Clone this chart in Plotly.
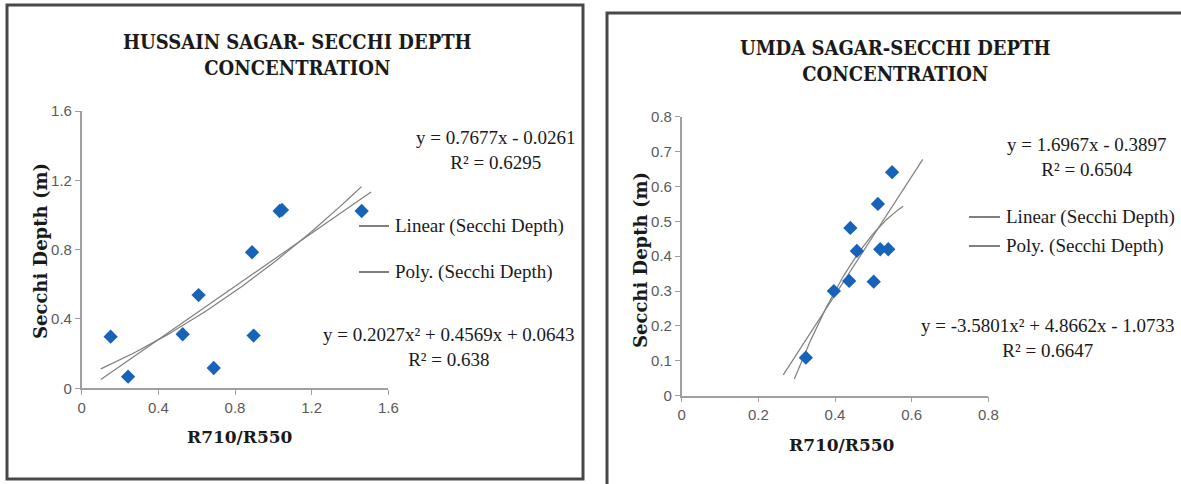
import numpy as np
import plotly.graph_objects as go

W, H = 1181, 484

# ---------------- data ----------------
hs_ratio = [0.151, 0.242, 0.527, 0.610, 0.689, 0.889, 0.897, 1.033, 1.045, 1.461]
hs_secchi = [0.298, 0.067, 0.312, 0.538, 0.117, 0.785, 0.304, 1.023, 1.029, 1.023]

us_ratio = [0.324, 0.397, 0.437, 0.440, 0.457, 0.501, 0.512, 0.518, 0.539, 0.549]
us_secchi = [0.109, 0.300, 0.329, 0.481, 0.415, 0.327, 0.550, 0.420, 0.420, 0.641]

# trendline coefficients as printed on the chart (highest power first)
hs_lin = [0.7677, -0.0261]
hs_poly = [0.2027, 0.4569, 0.0643]
us_lin = [1.6967, -0.3897]
us_poly = [-3.5801, 4.8662, -1.0733]

# x extent of each drawn trendline
hs_lin_range = [0.10, 1.51]
hs_poly_range = [0.10, 1.46]
us_lin_range = [0.265, 0.629]
us_poly_range = [0.294, 0.578]

hs_xticks = [0, 0.4, 0.8, 1.2, 1.6]
hs_yticks = [0, 0.4, 0.8, 1.2, 1.6]
us_xticks = [0, 0.2, 0.4, 0.6, 0.8]
us_yticks = [0, 0.1, 0.2, 0.3, 0.4, 0.5, 0.6, 0.7, 0.8]

titles = ["HUSSAIN SAGAR- SECCHI DEPTH<br>CONCENTRATION",
          "UMDA SAGAR-SECCHI DEPTH<br>CONCENTRATION"]
x_title = "R710/R550"
y_title = "Secchi Depth (m)"
legend_names = ["Linear (Secchi Depth)", "Poly. (Secchi Depth)"]
hs_eq = ["y = 0.7677x - 0.0261<br>R² = 0.6295", "y = 0.2027x² + 0.4569x + 0.0643<br>R² = 0.638"]
us_eq = ["y = 1.6967x - 0.3897<br>R² = 0.6504", "y = -3.5801x² + 4.8662x - 1.0733<br>R² = 0.6647"]

# ---------------- styling ----------------
MARK = "#1763B7"
TREND = "#7f7f7f"
AXIS = "#a0a0a0"
TICKC = "#5a5a5a"
SERIF = "Liberation Serif, Times New Roman, serif"
TITLEF = "DejaVu Serif Condensed, DejaVu Serif, serif"


def px(x):
    return x / W


def py(y):
    return 1 - y / H


fig = go.Figure()


def trend(coefs, rng, xa, ya):
    xs = np.linspace(rng[0], rng[1], 60)
    ys = np.polyval(coefs, xs)
    fig.add_trace(go.Scatter(x=xs, y=ys, mode="lines", xaxis=xa, yaxis=ya,
                             line=dict(color=TREND, width=1.2), showlegend=False,
                             hoverinfo="skip"))


trend(hs_lin, hs_lin_range, "x", "y")
trend(hs_poly, hs_poly_range, "x", "y")
trend(us_lin, us_lin_range, "x2", "y2")
trend(us_poly, us_poly_range, "x2", "y2")

fig.add_trace(go.Scatter(x=hs_ratio, y=hs_secchi, mode="markers", xaxis="x", yaxis="y",
                         marker=dict(symbol="diamond", size=11, color=MARK), showlegend=False))
fig.add_trace(go.Scatter(x=us_ratio, y=us_secchi, mode="markers", xaxis="x2", yaxis="y2",
                         marker=dict(symbol="diamond", size=11, color=MARK), showlegend=False))

axis_common = dict(showgrid=False, zeroline=False, showline=True, linecolor=AXIS, linewidth=1.5,
                   ticks="outside", ticklen=5, tickcolor=AXIS, tickwidth=1.2,
                   tickfont=dict(family="Liberation Sans Narrow, Arial Narrow, Liberation Sans, sans-serif",
                                 size=15, color=TICKC),
                   fixedrange=True, automargin=False)

fig.update_layout(
    width=W, height=H,
    margin=dict(l=0, r=0, t=0, b=0, pad=0, autoexpand=False),
    paper_bgcolor="white", plot_bgcolor="white",
    showlegend=False,
    xaxis=dict(domain=[px(81.7), px(388.3)], range=[0, 1.6], tickvals=hs_xticks,
               ticktext=[f"{v:g}" for v in hs_xticks], anchor="y", **axis_common),
    yaxis=dict(domain=[py(388.3), py(111)], range=[0, 1.6], tickvals=hs_yticks,
               ticktext=[f"{v:g}" for v in hs_yticks], anchor="x", **axis_common),
    xaxis2=dict(domain=[px(681.7), px(988.3)], range=[0, 0.8], tickvals=us_xticks,
                ticktext=[f"{v:g}" for v in us_xticks], anchor="y2", **axis_common),
    yaxis2=dict(domain=[py(395.7), py(116.7)], range=[0, 0.8], tickvals=us_yticks,
                ticktext=[f"{v:g}" for v in us_yticks], anchor="x2", **axis_common),
)

shapes = []
# chart frames
shapes.append(dict(type="rect", xref="paper", yref="paper", x0=px(7), x1=px(583), y0=py(479), y1=py(5),
                   line=dict(color="#484848", width=3)))
shapes.append(dict(type="rect", xref="paper", yref="paper", x0=px(607), x1=px(1195), y0=py(500), y1=py(13),
                   line=dict(color="#484848", width=3)))

ann = []


def text(t, x, y, size, family=SERIF, bold=False, color="#1a1a1a", xanchor="center", angle=0):
    if bold:
        t = "<b>" + t.replace("<br>", "</b><br><b>") + "</b>"
    ann.append(dict(text=t, x=px(x), y=py(y), xref="paper", yref="paper", showarrow=False,
                    xanchor=xanchor, yanchor="middle", textangle=angle, align="center",
                    font=dict(family=family, size=size, color=color)))


# titles
text(titles[0], 297, 55, 20, family=TITLEF, bold=True)
text(titles[1], 895, 61, 20, family=TITLEF, bold=True)
# axis titles
text(x_title, 240, 437, 17, family="DejaVu Serif, serif", bold=True)
text(x_title, 842, 445, 17, family="DejaVu Serif, serif", bold=True)
text(y_title, 40, 251, 18, family="DejaVu Serif, serif", bold=True, angle=-90)
text(y_title, 640, 260, 18, family="DejaVu Serif, serif", bold=True, angle=-90)
# equations
text(hs_eq[0], 496, 150, 19)
text(hs_eq[1], 449, 347, 19)
text(us_eq[0], 1087, 157, 19)
text(us_eq[1], 1048, 338, 19)

# legends
leg = [(359, 389, 393, [226, 272]), (969, 1000, 1004, [217, 246])]
for x0, x1, xt, ys in leg:
    for name, yy in zip(legend_names, ys):
        shapes.append(dict(type="line", xref="paper", yref="paper", x0=px(x0), x1=px(x1), y0=py(yy), y1=py(yy),
                           line=dict(color=TREND, width=2)))
        text(name, xt, yy, 19, xanchor="left")

fig.update_layout(shapes=shapes, annotations=ann)
fig.write_html("out.html", config={"responsive": False, "displayModeBar": False},
               post_script="document.body.style.margin='0';document.body.style.overflow='hidden';")
